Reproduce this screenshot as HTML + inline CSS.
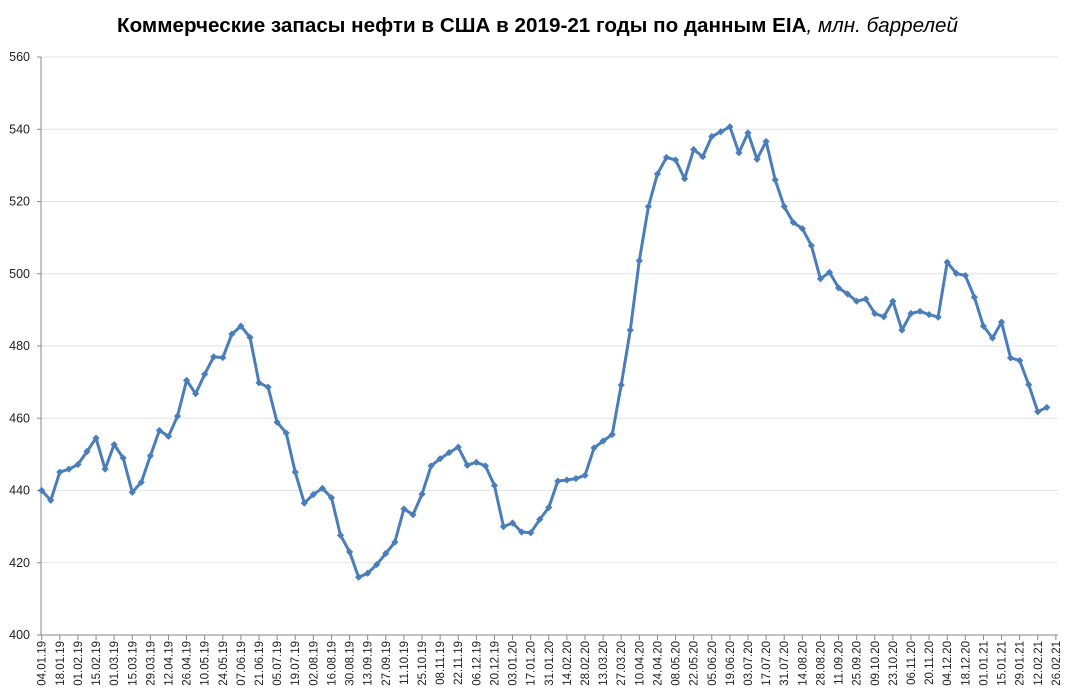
<!DOCTYPE html>
<html><head><meta charset="utf-8"><style>
body{margin:0;background:#fff;}
svg{display:block;font-family:"Liberation Sans",sans-serif;}
</style></head><body>
<svg id="s" width="1073" height="695" xmlns="http://www.w3.org/2000/svg">
<text x="117" y="32" font-size="20" textLength="841" lengthAdjust="spacingAndGlyphs" fill="#000"><tspan font-weight="bold">Коммерческие запасы нефти в США в 2019-21 годы по данным EIA</tspan><tspan font-style="italic">, млн. баррелей</tspan></text>
<g id="grid"></g>
<g id="xl"></g>
<polyline id="line" fill="none" stroke="#4a7ebb" stroke-width="3" stroke-linejoin="round"/>
<g id="mk"></g>
</svg>
<script>
const v=[440,437.3,445.1,445.9,447.2,450.8,454.5,445.9,452.7,449,439.5,442.3,449.6,456.6,455,460.6,470.5,466.8,472.2,477,476.8,483.3,485.5,482.4,469.8,468.6,458.9,455.9,445.1,436.5,438.9,440.6,438,427.6,423,416,417.1,419.5,422.6,425.7,434.9,433.3,439,446.8,448.8,450.5,452,447,447.8,446.8,441.4,430,431,428.5,428.3,432,435.3,442.6,442.9,443.3,444.2,451.8,453.7,455.5,469.2,484.4,503.6,518.6,527.6,532.2,531.5,526.3,534.4,532.4,538,539.3,540.7,533.5,539,531.7,536.6,526,518.6,514.2,512.5,507.8,498.6,500.4,496.1,494.4,492.4,493,489,488.1,492.4,484.4,489,489.6,488.7,488,503.2,500.1,499.5,493.5,485.5,482.2,486.6,476.7,476,469.3,461.8,463];
const NS="http://www.w3.org/2000/svg";
function el(t,a,p,txt){const e=document.createElementNS(NS,t);for(const k in a)e.setAttribute(k,a[k]);if(txt)e.textContent=txt;document.getElementById(p).appendChild(e);return e;}
const Y=x=>635-(x-400)*3.6125, X=i=>41.7+9.055*i;
for(let g=400;g<=560;g+=20){const y=Y(g);if(g>400)el('line',{x1:41,x2:1058,y1:y,y2:y,stroke:'#e3e3e3','stroke-width':1},'grid');
el('line',{x1:37,x2:41,y1:y,y2:y,stroke:'#888'},'grid');
el('text',{x:30,y:y+4,'font-size':12.5,'text-anchor':'end',fill:'#222'},'grid',String(g));}
el('line',{x1:41,x2:41,y1:57,y2:635,stroke:'#888'},'grid');
el('line',{x1:41,x2:1058,y1:635,y2:635,stroke:'#888'},'grid');
let d=new Date(Date.UTC(2019,0,4));
for(let k=0;k<=56;k++){const x=41.7+18.11*k;
el('line',{x1:x,x2:x,y1:635,y2:640,stroke:'#888'},'xl');
const dd=new Date(d.getTime()+k*14*864e5);
const s=String(dd.getUTCDate()).padStart(2,'0')+'.'+String(dd.getUTCMonth()+1).padStart(2,'0')+'.'+String(dd.getUTCFullYear()).slice(2);
el('text',{x:0,y:0,'font-size':11.5,'text-anchor':'end',fill:'#222',transform:`translate(${x+4},${641}) rotate(-90)`},'xl',s);}
document.getElementById('line').setAttribute('points',v.map((a,i)=>X(i).toFixed(1)+','+Y(a).toFixed(1)).join(' '));
v.forEach((a,i)=>{const x=X(i),y=Y(a);el('path',{d:`M${x-3.6},${y}L${x},${y-3.6}L${x+3.6},${y}L${x},${y+3.6}Z`,fill:'#4a7ebb'},'mk');});
</script>
</body></html>
